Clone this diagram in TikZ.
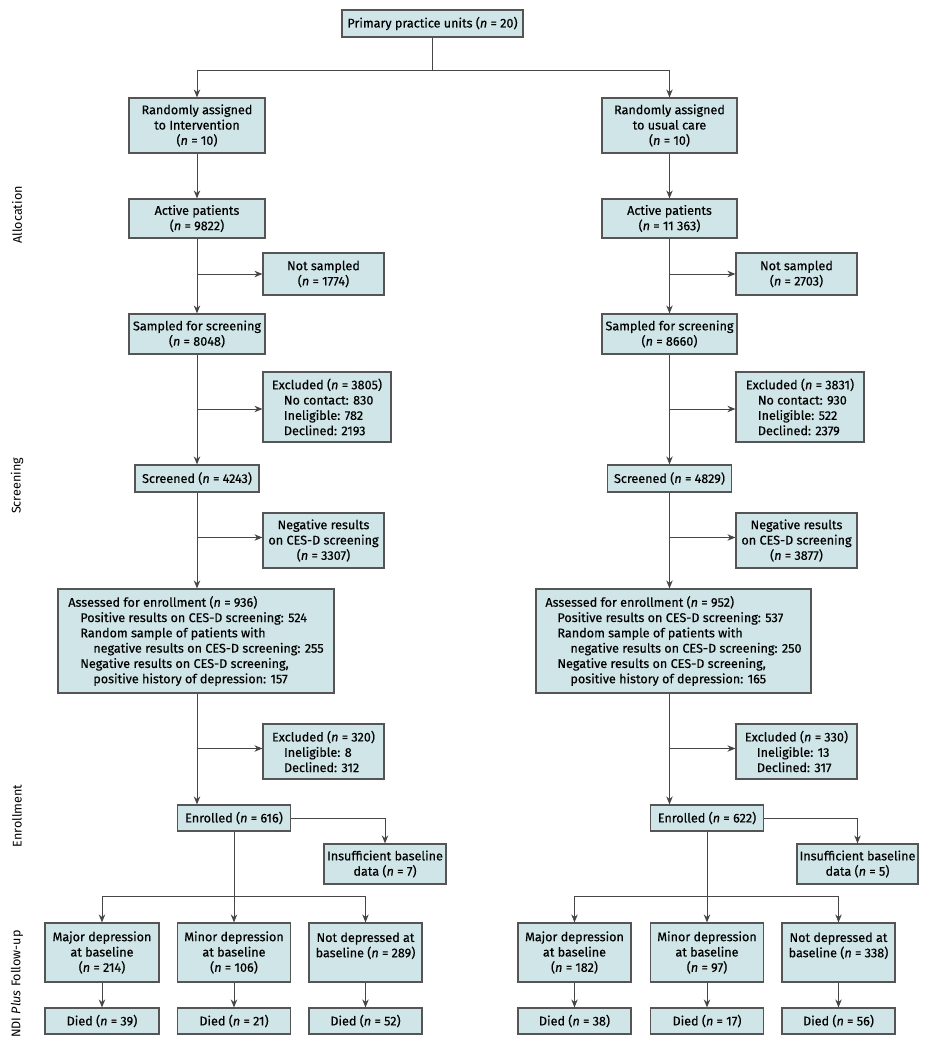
\documentclass[tikz,border=0pt]{standalone}
\usepackage{fontspec}
\setmainfont{Fira Sans}[FakeBold=0.4]
\newfontfamily\phasefont{Fira Sans}
\usepackage{xcolor}
\usetikzlibrary{arrows.meta}
\definecolor{boxfill}{RGB}{207, 229, 232}
\definecolor{boxline}{RGB}{85, 85, 85}
\definecolor{wire}{RGB}{70, 70, 70}
\newcommand{\nis}[1]{(\textit{n} = #1)}

\begin{document}
\begin{tikzpicture}[x=1pt,y=1pt,yscale=-1,xscale=1,
  box/.style={draw=boxline,fill=boxfill,line width=1.2pt,inner sep=2pt,align=center,
    font=\fontsize{12.6}{15.3}\selectfont},
  arr/.style={draw=wire,line width=1pt,-{Stealth[length=8pt,width=6.5pt]}},
  phase/.style={rotate=90,font=\phasefont\fontsize{12.6}{14}\selectfont}]
\useasboundingbox (0,0) rectangle (932,1050);

% Phase labels
\node[phase] (lblAlloc) at (17,215) {Allocation};
\node[phase] (lblScreen) at (17,486) {Screening};
\node[phase] (lblEnrol) at (17,816) {Enrollment};
\node[phase] (lblFollow) at (17,984) {NDI \textit{Plus} Follow-up};

% Top
\node[box,minimum width=181,minimum height=27] (top) at (432.5,23.5) {Primary practice units \nis{20}};

% Intervention arm
\node[box,minimum width=136,minimum height=55] (randI) at (197,125.5) {Randomly assigned\\to Intervention\\\nis{10}};
\node[box,minimum width=136,minimum height=39] (actI) at (197,218.5) {Active patients\\\nis{9822}};
\node[box,minimum width=121,minimum height=42] (nsI) at (323.5,274) {Not sampled\\\nis{1774}};
\node[box,minimum width=136,minimum height=40] (sampI) at (197,334) {Sampled for screening\\\nis{8048}};
\node[box,minimum width=128,minimum height=70,align=left] (exI) at (327,407) {Excluded \nis{3805}\\\hspace*{12pt}No contact: 830\\\hspace*{12pt}Ineligible: 782\\\hspace*{12pt}Declined: 2193};
\node[box,minimum width=124,minimum height=27] (scrI) at (197,478.5) {Screened \nis{4243}};
\node[box,minimum width=121,minimum height=55] (negI) at (323.5,540.5) {Negative results\\on CES-D screening\\\nis{3307}};
\node[box,minimum width=276,minimum height=104,align=left] (assI) at (196,641) {Assessed for enrollment \nis{936}\\\hspace*{12pt}Positive results on CES-D screening: 524\\\hspace*{12pt}Random sample of patients with\\\hspace*{25pt}negative results on CES-D screening: 255\\\hspace*{12pt}Negative results on CES-D screening,\\\hspace*{25pt}positive history of depression: 157};
\node[box,minimum width=121,minimum height=55,align=left] (exxI) at (323.5,751.5) {Excluded \nis{320}\\\hspace*{12pt}Ineligible: 8\\\hspace*{12pt}Declined: 312};
\node[box,minimum width=113,minimum height=26] (enrI) at (234,818) {Enrolled \nis{616}};
\node[box,minimum width=122,minimum height=40] (insI) at (385,864) {Insufficient baseline\\data \nis{7}};
\node[box,minimum width=114,minimum height=59] (majI) at (102,952.5) {Major depression\\at baseline\\\nis{214}};
\node[box,minimum width=113,minimum height=59] (minI) at (234,952.5) {Minor depression\\at baseline\\\nis{106}};
\node[box,minimum width=113,minimum height=59] (notI) at (365.5,952.5) {Not depressed at\\baseline \nis{289}\\\mbox{}};
\node[box,minimum width=114,minimum height=26] (dmajI) at (102,1021) {Died \nis{39}};
\node[box,minimum width=113,minimum height=26] (dminI) at (234,1021) {Died \nis{21}};
\node[box,minimum width=113,minimum height=26] (dnotI) at (365.5,1021) {Died \nis{52}};

% Usual care arm
\node[box,minimum width=135,minimum height=55] (randU) at (669.5,125.5) {Randomly assigned\\to usual care\\\nis{10}};
\node[box,minimum width=135,minimum height=39] (actU) at (669.5,218.5) {Active patients\\\nis{11 363}};
\node[box,minimum width=121,minimum height=42] (nsU) at (796.5,274) {Not sampled\\\nis{2703}};
\node[box,minimum width=135,minimum height=40] (sampU) at (669.5,334) {Sampled for screening\\\nis{8660}};
\node[box,minimum width=128,minimum height=70,align=left] (exU) at (800,407) {Excluded \nis{3831}\\\hspace*{12pt}No contact: 930\\\hspace*{12pt}Ineligible: 522\\\hspace*{12pt}Declined: 2379};
\node[box,minimum width=124,minimum height=27] (scrU) at (669.5,478.5) {Screened \nis{4829}};
\node[box,minimum width=121,minimum height=55] (negU) at (796.5,540.5) {Negative results\\on CES-D screening\\\nis{3877}};
\node[box,minimum width=275,minimum height=104,align=left] (assU) at (673.5,641) {Assessed for enrollment \nis{952}\\\hspace*{12pt}Positive results on CES-D screening: 537\\\hspace*{12pt}Random sample of patients with\\\hspace*{25pt}negative results on CES-D screening: 250\\\hspace*{12pt}Negative results on CES-D screening,\\\hspace*{25pt}positive history of depression: 165};
\node[box,minimum width=121,minimum height=55,align=left] (exxU) at (796.5,751.5) {Excluded \nis{330}\\\hspace*{12pt}Ineligible: 13\\\hspace*{12pt}Declined: 317};
\node[box,minimum width=113,minimum height=26] (enrU) at (707,818) {Enrolled \nis{622}};
\node[box,minimum width=121,minimum height=40] (insU) at (857.5,864) {Insufficient baseline\\data \nis{5}};
\node[box,minimum width=113,minimum height=59] (majU) at (574.5,952.5) {Major depression\\at baseline\\\nis{182}};
\node[box,minimum width=113,minimum height=59] (minU) at (707,952.5) {Minor depression\\at baseline\\\nis{97}};
\node[box,minimum width=113,minimum height=59] (notU) at (838.5,952.5) {Not depressed at\\baseline \nis{338}\\\mbox{}};
\node[box,minimum width=113,minimum height=26] (dmajU) at (574.5,1021) {Died \nis{38}};
\node[box,minimum width=113,minimum height=26] (dminU) at (707,1021) {Died \nis{17}};
\node[box,minimum width=113,minimum height=26] (dnotU) at (838.5,1021) {Died \nis{56}};

% Branch points
\coordinate (brTop) at (432.5,70);
\coordinate (brI) at (234,896);
\coordinate (brU) at (707,896);

% Connectors
\draw[draw=wire,line width=1pt] (top.south) -- (brTop);
\draw[arr] (brTop) -| (randI.north);
\draw[arr] (brTop) -| (randU.north);

\foreach \arm in {I,U}{
  \draw[arr] (rand\arm) -- (act\arm);
  \draw[arr] (act\arm) -- (samp\arm);
  \draw[arr] (act\arm.south |- ns\arm) -- (ns\arm.west);
  \draw[arr] (samp\arm) -- (scr\arm);
  \draw[arr] ([yshift=2]samp\arm.south |- ex\arm) -- ([yshift=2]ex\arm.west);
  \draw[arr] (scr\arm) -- (ass\arm.north -| scr\arm);
  \draw[arr] ([yshift=-3]scr\arm.south |- neg\arm) -- ([yshift=-3]neg\arm.west);
  \draw[arr] (ass\arm.south -| scr\arm) -- (enr\arm.north -| scr\arm);
  \draw[arr] ([yshift=-3]scr\arm.south |- exx\arm) -- ([yshift=-3]exx\arm.west);
  \draw[arr] (enr\arm.east) -| (ins\arm.north);
  \draw[arr] (enr\arm) -- (min\arm);
  \draw[arr] (br\arm) -| (maj\arm.north);
  \draw[arr] (br\arm) -| (not\arm.north);
  \draw[arr] (maj\arm) -- (dmaj\arm);
  \draw[arr] (min\arm) -- (dmin\arm);
  \draw[arr] (not\arm) -- (dnot\arm);
}

\end{tikzpicture}
\end{document}
